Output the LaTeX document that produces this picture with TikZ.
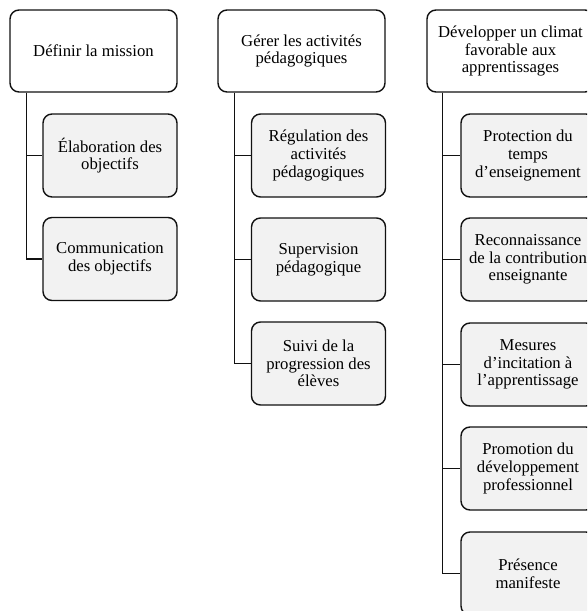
\documentclass[tikz,border=0pt]{standalone}
\usepackage{fontspec}
\setmainfont{Liberation Serif}
\definecolor{boxfill}{HTML}{F2F2F2}
\definecolor{edge}{HTML}{111111}
\tikzset{
  topbox/.style={draw=edge, line width=1.4pt, rounded corners=9pt, fill=white,
    minimum width=167pt, minimum height=82pt, inner sep=0pt, align=center,
    font=\fontsize{16.7}{17.6}\selectfont},
  subbox/.style={draw=edge, line width=1.4pt, rounded corners=9pt, fill=boxfill,
    minimum width=134pt, minimum height=83pt, inner sep=0pt, align=center,
    font=\fontsize{16.7}{17.6}\selectfont},
  link/.style={draw=edge, line width=1.6pt}
}
\begin{document}
\begin{tikzpicture}[x=1pt,y=-1pt]
\useasboundingbox (0,0) rectangle (587,611);
\clip (0,0) rectangle (587,611);
% column 1
\node[topbox] (t1) at (93.5,51) {Définir la mission};
\node[subbox] (a1) at (110,155.5) {Élaboration des\\objectifs};
\node[subbox] (a2) at (110,259) {Communication\\des objectifs};
\coordinate (v1) at ([xshift=17pt]t1.south west);
\draw[link] (v1) |- (a1.west);
\draw[link] (v1) |- (a2.west);
% column 2
\node[topbox] (t2) at (301.5,51) {Gérer les activités\\pédagogiques};
\node[subbox] (b1) at (318.5,155.5) {Régulation des\\activités\\pédagogiques};
\node[subbox] (b2) at (318.5,259.5) {Supervision\\pédagogique};
\node[subbox] (b3) at (318.5,363.5) {Suivi de la\\progression des\\élèves};
\coordinate (v2) at ([xshift=17pt]t2.south west);
\draw[link] (v2) |- (b1.west);
\draw[link] (v2) |- (b2.west);
\draw[link] (v2) |- (b3.west);
% column 3
\node[topbox] (t3) at (510.5,51) {Développer un climat\\favorable aux\\apprentissages};
\node[subbox] (c1) at (528,155.5) {Protection du\\temps\\d’enseignement};
\node[subbox] (c2) at (528,259.5) {Reconnaissance\\de la contribution\\enseignante};
\node[subbox] (c3) at (528,364.5) {Mesures\\d’incitation à\\l’apprentissage};
\node[subbox] (c4) at (528,468.5) {Promotion du\\développement\\professionnel};
\node[subbox] (c5) at (528,573.5) {Présence\\manifeste};
\coordinate (v3) at ([xshift=16pt]t3.south west);
\draw[link] (v3) |- (c1.west);
\draw[link] (v3) |- (c2.west);
\draw[link] (v3) |- (c3.west);
\draw[link] (v3) |- (c4.west);
\draw[link] (v3) |- (c5.west);
\end{tikzpicture}
\end{document}
